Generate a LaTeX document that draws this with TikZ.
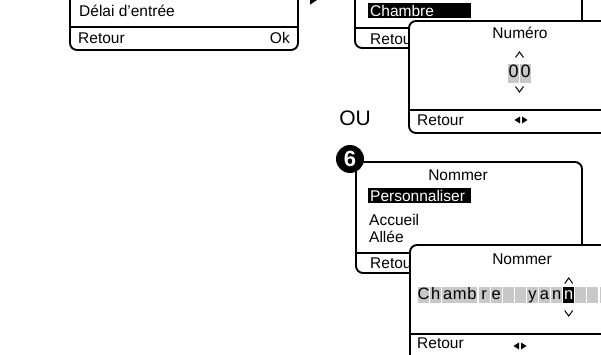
\documentclass[tikz,border=0pt]{standalone}
\usepackage{fontspec}
\setmainfont{Liberation Sans}
\usetikzlibrary{arrows.meta, positioning}
\definecolor{lcdgrey}{RGB}{200,200,200}
\newcommand{\lcdfont}{\fontsize{15.5}{18}\selectfont}

\begin{document}
\begin{tikzpicture}[
    x=1pt, y=-1pt, >=Latex,
    screen/.style={draw, line width=1.9pt, rounded corners=7pt, fill=white},
    divider/.style={line width=1.9pt},
    menu_text/.style={inner sep=0pt, font=\lcdfont},
    selected/.style={fill=black, text=white, font=\lcdfont, text width=99pt, align=left, inner xsep=2pt, inner ysep=1.5pt, minimum height=15pt, anchor=west},
    lcd_cell/.style={fill=lcdgrey, minimum width=11pt, minimum height=16pt, inner sep=0pt, text height=12pt, text depth=3.5pt, font=\fontsize{16.5}{18}\selectfont},
    chevron/.style={line width=1pt}
]
\clip (0,0) rectangle (601,355);

\draw[screen] (70,-40) rectangle (298,50);
\draw[divider] (70,27) -- (298,27);
\node (delai) [menu_text, anchor=west] at (79,11) {Délai d'entrée};
\node (retour_delai) [menu_text, anchor=west] at (78,38) {Retour};
\node (ok_delai) [menu_text, anchor=east] at (290,38) {Ok};

\coordinate (arrow_start) at (298,-2);
\coordinate (arrow_end) at (320,-2);
\draw[-{Triangle[length=10pt, width=13pt]}, line width=1.8pt] (arrow_start) -- (arrow_end);

\draw[screen] (355,-40) rectangle (582,48);
\draw[divider] (355,28) -- (582,28);
\node (chambre) [selected] at (368,10.5) {Chambre};
\node (retour_chambre) [menu_text, anchor=west] at (370,39) {Retour};

\draw[screen] (409,21) rectangle (660,133);
\draw[divider] (409,110) -- (660,110);
\node (numero) [menu_text] at (520,33) {Numéro};
\foreach \d [count=\i from 0] in {0,0}
    \node (digit_\i) [lcd_cell, minimum height=19pt, font=\fontsize{18}{20}\selectfont] at (513.5+12*\i,73.5) {\d};
\draw[chevron] (515.5,57.5) -- (519.5,52) -- (523.5,57.5);
\draw[chevron] (515.5,86.5) -- (519.5,92) -- (523.5,86.5);
\node (retour_numero) [menu_text, anchor=west] at (417,120) {Retour};
\coordinate (nav_numero) at (521,120);
\fill (nav_numero) ++(-1,-3.5) -- ++(0,7) -- ++(-5.5,-3.5) -- cycle;
\fill (nav_numero) ++(1,-3.5) -- ++(0,7) -- ++(5.5,-3.5) -- cycle;

\node (ou) [menu_text, font=\fontsize{21}{24}\selectfont] at (355,118) {OU};

\draw[screen] (356,162) rectangle (582,273);
\draw[divider] (356,253) -- (582,253);
\node (nommer_menu) [menu_text] at (458,175) {Nommer};
\node (personnaliser) [selected] at (368,195.5) {Personnaliser};
\node (accueil) [menu_text, anchor=west] at (369,220) {Accueil};
\node (allee) [menu_text, anchor=west] at (369,237) {Allée};
\node (retour_nommer_menu) [menu_text, anchor=west] at (370,263) {Retour};
\node (step_six) [circle, fill=black, minimum size=28pt, inner sep=0pt, text=white, font=\bfseries\fontsize{22}{22}\selectfont] at (350,159) {6};

\draw[screen] (410,245) rectangle (660,400);
\draw[divider] (410,334) -- (660,334);
\node (nommer_edit) [menu_text] at (522,259) {Nommer};
\foreach \ch [count=\i from 0] in {C,h,a,m,b,r,e,{},{},y,a,n}
    \node (cell_\i) [lcd_cell] at (423.5+12.1*\i,295) {\ch};
\node (cursor_cell) [lcd_cell, fill=black, text=white] at (423.5+12.1*12,295) {n};
\foreach \i in {13,14,15}
    \node (cell_\i) [lcd_cell] at (423.5+12.1*\i,295) {};
\draw[chevron] (564.7,283.5) -- (568.7,278) -- (572.7,283.5);
\draw[chevron] (564.7,310.5) -- (568.7,316) -- (572.7,310.5);
\node (retour_nommer_edit) [menu_text, anchor=west] at (417,343) {Retour};
\coordinate (nav_nommer) at (520,346);
\fill (nav_nommer) ++(-1,-3.5) -- ++(0,7) -- ++(-5.5,-3.5) -- cycle;
\fill (nav_nommer) ++(1,-3.5) -- ++(0,7) -- ++(5.5,-3.5) -- cycle;
\end{tikzpicture}
\end{document}
